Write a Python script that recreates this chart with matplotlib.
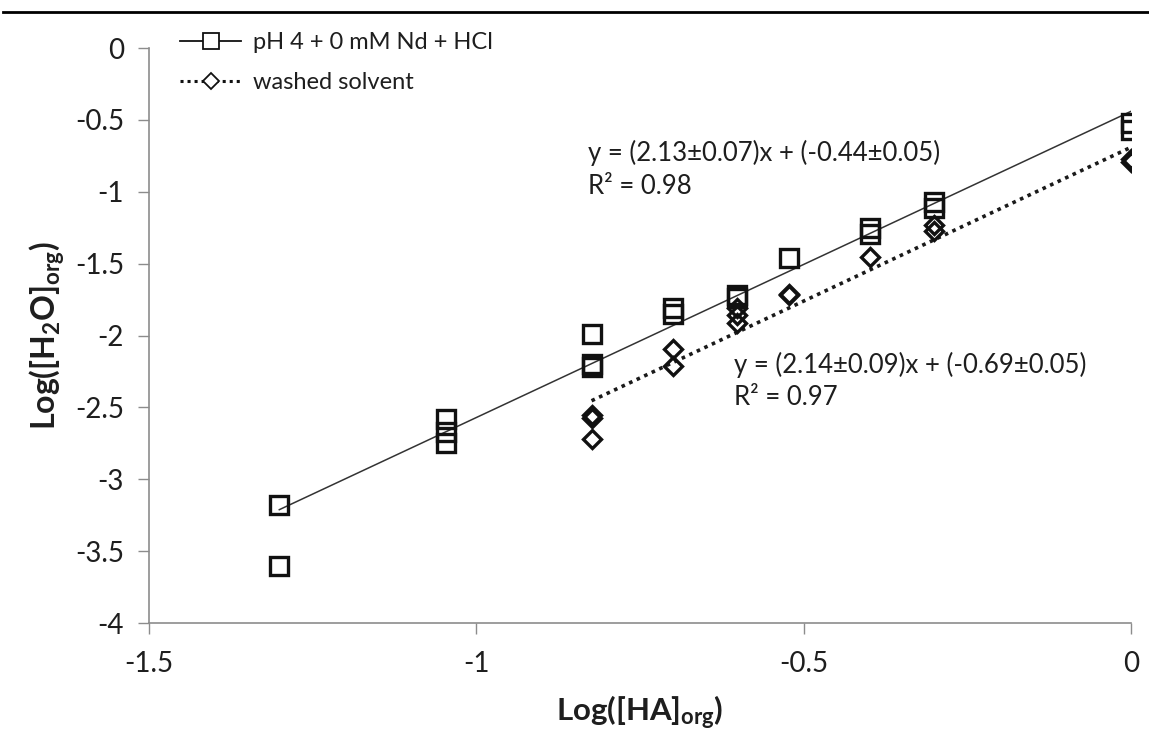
import numpy as np
import matplotlib
matplotlib.use("Agg")
import matplotlib.pyplot as plt
from matplotlib.lines import Line2D
from matplotlib.ticker import FuncFormatter

plt.rcParams['font.family'] = ['Lato', 'DejaVu Sans']
plt.rcParams['axes.unicode_minus'] = False
plt.rcParams['mathtext.fontset'] = 'custom'
plt.rcParams['mathtext.rm'] = 'Lato'
plt.rcParams['mathtext.bf'] = 'Lato:bold'
plt.rcParams['mathtext.it'] = 'Lato:italic'

# data
hcl_x = [-1.301, -1.301, -1.046, -1.046, -1.046, -0.824, -0.824, -0.824,
         -0.699, -0.699, -0.602, -0.602, -0.523, -0.398, -0.398,
         -0.301, -0.301, 0.0, 0.0]
hcl_y = [-3.18, -3.60, -2.58, -2.67, -2.75, -1.99, -2.20, -2.22,
         -1.81, -1.85, -1.72, -1.74, -1.46, -1.25, -1.29,
         -1.07, -1.11, -0.52, -0.57]

washed_x = [-0.824, -0.824, -0.824, -0.699, -0.699, -0.602, -0.602, -0.602,
            -0.523, -0.523, -0.398, -0.301, -0.301, 0.0, 0.0]
washed_y = [-2.55, -2.57, -2.72, -2.09, -2.21, -1.81, -1.86, -1.91,
            -1.71, -1.72, -1.45, -1.23, -1.27, -0.77, -0.79]

hcl_fit = (2.13, -0.44)
washed_fit = (2.14, -0.69)

x_ticks = [-1.5, -1, -0.5, 0]
y_ticks = [0, -0.5, -1, -1.5, -2, -2.5, -3, -3.5, -4]

fig = plt.figure(figsize=(11.49, 7.40), dpi=100)
ax = fig.add_axes([0.1297, 0.158, 0.8546, 0.777])

txt = '#1e1e1e'
axis_gray = '#8c8c8c'

# trendlines
fx = np.array([min(hcl_x), max(hcl_x)])
ax.plot(fx, hcl_fit[0] * fx + hcl_fit[1], color='#333333', lw=1.1, zorder=2)
wx = np.array([min(washed_x), max(washed_x)])
ax.plot(wx, washed_fit[0] * wx + washed_fit[1], color='#1a1a1a', lw=2.6,
        ls=(0, (1, 1.3)), zorder=2)

ax.plot(hcl_x, hcl_y, ls='none', marker='s', ms=12.5, mfc='none',
        mec='#111111', mew=2.4, zorder=3)
ax.plot(washed_x, washed_y, ls='none', marker='D', ms=9.5, mfc='none',
        mec='#111111', mew=2.4, zorder=3)

# legend handles
h1 = Line2D([], [], color='#111111', lw=1.3, marker='s', ms=11, mfc='white',
            mec='#111111', mew=1.3)
h2 = Line2D([], [], color='#111111', lw=2.2, ls=(0, (1, 1.3)), marker='D',
            ms=8.5, mfc='white', mec='#111111', mew=1.3)
ax.legend([h1, h2], ['pH 4 + 0 mM Nd + HCl', 'washed solvent'],
          loc='upper left', bbox_to_anchor=(0.01, 1.065), frameon=False,
          fontsize=17, handlelength=2.6, handletextpad=0.5,
          labelspacing=0.8, labelcolor=txt)

ax.text(-0.829, -0.73, 'y = (2.13±0.07)x + (-0.44±0.05)', fontsize=18.5,
        color=txt, va='center', ha='left')
ax.text(-0.829, -0.965, 'R² = 0.98', fontsize=18.5, color=txt,
        va='center', ha='left')
ax.text(-0.606, -2.205, 'y = (2.14±0.09)x + (-0.69±0.05)', fontsize=18.5,
        color=txt, va='center', ha='left')
ax.text(-0.606, -2.43, 'R² = 0.97', fontsize=18.5, color=txt,
        va='center', ha='left')

ax.set_xlim(-1.5, 0)
ax.set_ylim(-4, 0)
ax.set_xticks(x_ticks)
ax.set_yticks(y_ticks)
fmt = FuncFormatter(lambda v, p: '%g' % v)
ax.xaxis.set_major_formatter(fmt)
ax.yaxis.set_major_formatter(fmt)

for s in ['top', 'right']:
    ax.spines[s].set_visible(False)
for s in ['left', 'bottom']:
    ax.spines[s].set_color(axis_gray)
    ax.spines[s].set_linewidth(1.2)
ax.tick_params(axis='both', colors=axis_gray, length=8, width=1.0,
               labelsize=20, labelcolor=txt)
ax.tick_params(axis='x', pad=12)
ax.tick_params(axis='y', pad=10)

ax.set_xlabel(r'$\mathbf{Log([HA]_{org})}$', fontsize=22.5, color=txt, labelpad=12)
ax.set_ylabel(r'$\mathbf{Log([H_2O]_{org})}$', fontsize=23, color=txt, labelpad=6)

# page rule at the top
fig.add_artist(Line2D([0.003, 1.0], [0.984, 0.984], color='black', lw=2.0,
                      transform=fig.transFigure))

fig.savefig('out.png', dpi=100)
